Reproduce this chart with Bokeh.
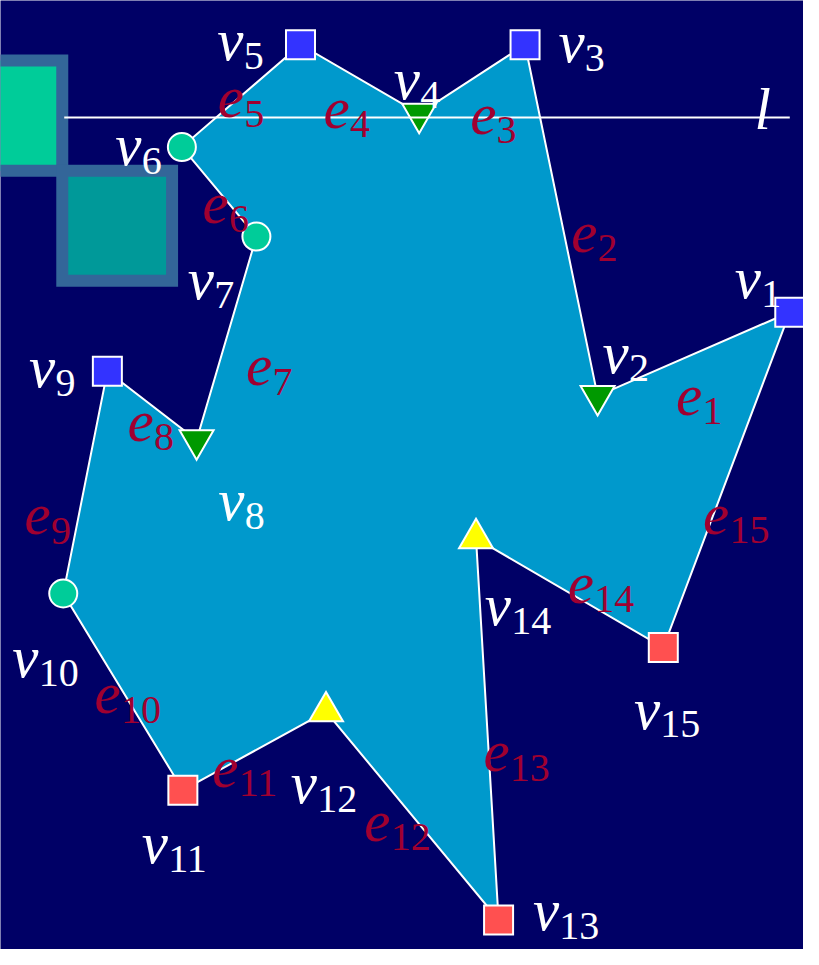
from bokeh.plotting import figure
from bokeh.models import Range1d
from bokeh.core.properties import value
from bokeh.embed import file_html
from bokeh.resources import INLINE

# ---------------- data ----------------
vertex_names = ["v1", "v2", "v3", "v4", "v5", "v6", "v7", "v8",
                "v9", "v10", "v11", "v12", "v13", "v14", "v15"]
vertex_x = [805, 609, 535, 427, 306, 185, 261, 200, 109, 64, 186, 332, 508, 485, 676]
vertex_y = [317, 402, 45, 115, 45, 149, 240, 447, 377, 603, 803, 723, 935, 547, 658]
vertex_type = ["start", "merge", "start", "merge", "start", "regular", "regular", "merge",
               "start", "regular", "end", "split", "end", "split", "end"]
edge_names = ["e1", "e2", "e3", "e4", "e5", "e6", "e7", "e8",
              "e9", "e10", "e11", "e12", "e13", "e14", "e15"]
sweep_line_y = 119
sweep_line_x = [65, 805]
sweep_label = "l"
deco_square_x = [7, 119]
deco_square_y = [117, 229]

# ---------------- layout / style ----------------
BG = "#000066"
POLY_FILL = "#0099CC"
EDGE_LABEL_COLOR = "#A00030"
TYPE_STYLE = {
    "start":   ("square", "#3333FF", 29),
    "end":     ("square", "#FF5050", 29),
    "merge":   ("inverted_triangle", "#009900", 34),
    "split":   ("triangle", "#FFFF00", 34),
    "regular": ("circle", "#00CC99", 28),
}
# label offsets (main glyph origin) relative to vertex / edge midpoint
VLABEL_OFF = [(-56, -35), (5, -44), (34, -3), (-26, -35), (-85, -5), (-68, -2), (-70, 43),
              (22, 61), (-80, -4), (-52, 65), (-42, 54), (-36, 73), (35, -10), (9, 68), (-30, 62)]
ELABEL_OFF = [(-18, 42), (10, 12), (-2, 36), (-37, 30), (-24, 2), (-17, 12), (20, 28),
              (-25, 16), (-62, 33), (-29, 2), (-43, 17), (-49, 6), (-4, 23), (-2, -10), (-24, 35)]
SUB_DX, SUB_DY = 27, 16
MAIN_SIZE, SUB_SIZE = "59px", "40px"
FONT = value("Liberation Serif")

p = figure(width=803, height=949, x_range=Range1d(0, 819), y_range=Range1d(965, 0),
           output_backend="svg", toolbar_location=None, min_border=0,
           x_axis_location=None, y_axis_location=None)
p.grid.visible = False
p.background_fill_color = BG
p.border_fill_color = BG
p.outline_line_color = None

# decorative squares (top-left)
p.rect(x=deco_square_x, y=deco_square_y, width=112, height=112,
       fill_color=["#00CC99", "#009999"], line_color="#336699", line_width=12,
       line_join="miter")

# polygon
p.patch(vertex_x, vertex_y, fill_color=POLY_FILL, line_color="white", line_width=2,
        line_join="miter")

# vertex markers
for t, (marker, color, size) in TYPE_STYLE.items():
    xs = [x for x, tt in zip(vertex_x, vertex_type) if tt == t]
    ys = [y for y, tt in zip(vertex_y, vertex_type) if tt == t]
    p.scatter(xs, ys, marker=marker, size=size, fill_color=color,
              line_color="white", line_width=2, line_join="miter")

# sweep line
p.line(sweep_line_x, [sweep_line_y, sweep_line_y], line_color="white", line_width=2)

# labels
n = len(vertex_x)
v_main_x, v_main_y, v_sub_x, v_sub_y, v_sub = [], [], [], [], []
for i, name in enumerate(vertex_names):
    mx = vertex_x[i] + VLABEL_OFF[i][0]
    my = vertex_y[i] + VLABEL_OFF[i][1]
    v_main_x.append(mx); v_main_y.append(my)
    v_sub_x.append(mx + SUB_DX); v_sub_y.append(my + SUB_DY); v_sub.append(name[1:])

e_main_x, e_main_y, e_sub_x, e_sub_y, e_sub = [], [], [], [], []
for i, name in enumerate(edge_names):
    j = (i + 1) % n
    midx = (vertex_x[i] + vertex_x[j]) / 2
    midy = (vertex_y[i] + vertex_y[j]) / 2
    mx = midx + ELABEL_OFF[i][0]
    my = midy + ELABEL_OFF[i][1]
    e_main_x.append(mx); e_main_y.append(my)
    e_sub_x.append(mx + SUB_DX); e_sub_y.append(my + SUB_DY); e_sub.append(name[1:])

p.text(x=v_main_x, y=v_main_y, text=["v"] * n, text_font=FONT, text_font_style="italic",
       text_font_size=MAIN_SIZE, text_color="white", text_align="left", text_baseline="alphabetic")
p.text(x=v_sub_x, y=v_sub_y, text=v_sub, text_font=FONT, text_font_size=SUB_SIZE,
       text_color="white", text_align="left", text_baseline="alphabetic")
p.text(x=e_main_x, y=e_main_y, text=["e"] * n, text_font=FONT, text_font_style="italic",
       text_font_size=MAIN_SIZE, text_color=EDGE_LABEL_COLOR, text_align="left",
       text_baseline="alphabetic")
p.text(x=e_sub_x, y=e_sub_y, text=e_sub, text_font=FONT, text_font_size=SUB_SIZE,
       text_color=EDGE_LABEL_COLOR, text_align="left", text_baseline="alphabetic")
p.text(x=[sweep_line_x[1] - 36], y=[sweep_line_y - 9], text=[sweep_label], text_font=FONT,
       text_font_style="italic", text_font_size=MAIN_SIZE, text_color="white",
       text_align="left", text_baseline="alphabetic")

open("out.html", "w").write(file_html(p, INLINE))
